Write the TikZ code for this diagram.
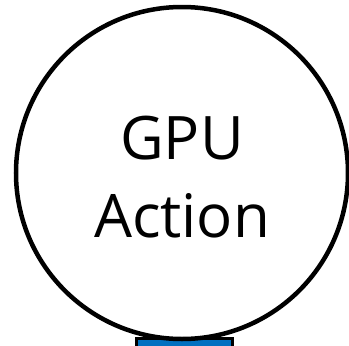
\documentclass[tikz,border=0pt]{standalone}
\usepackage{fontspec}
\setmainfont{Open Sans}
\definecolor{gpublue}{RGB}{0,112,192}
\begin{document}
\begin{tikzpicture}[x=1pt,y=-1pt,
    action/.style={circle,draw=black,line width=4.5pt,fill=white,minimum size=332pt,inner sep=0pt,
      align=center,font=\fontsize{60}{78}\selectfont},
    kernel/.style={rectangle,draw=black,line width=3pt,fill=gpublue,minimum width=96pt,minimum height=40pt,inner sep=0pt}]
  \clip (0,0) rectangle (349,346);
  \node[kernel] (k) at (184.5,358) {};
  \node[action] (a) at (182,173) {\rule{0pt}{52pt}GPU\\Action};
\end{tikzpicture}
\end{document}
